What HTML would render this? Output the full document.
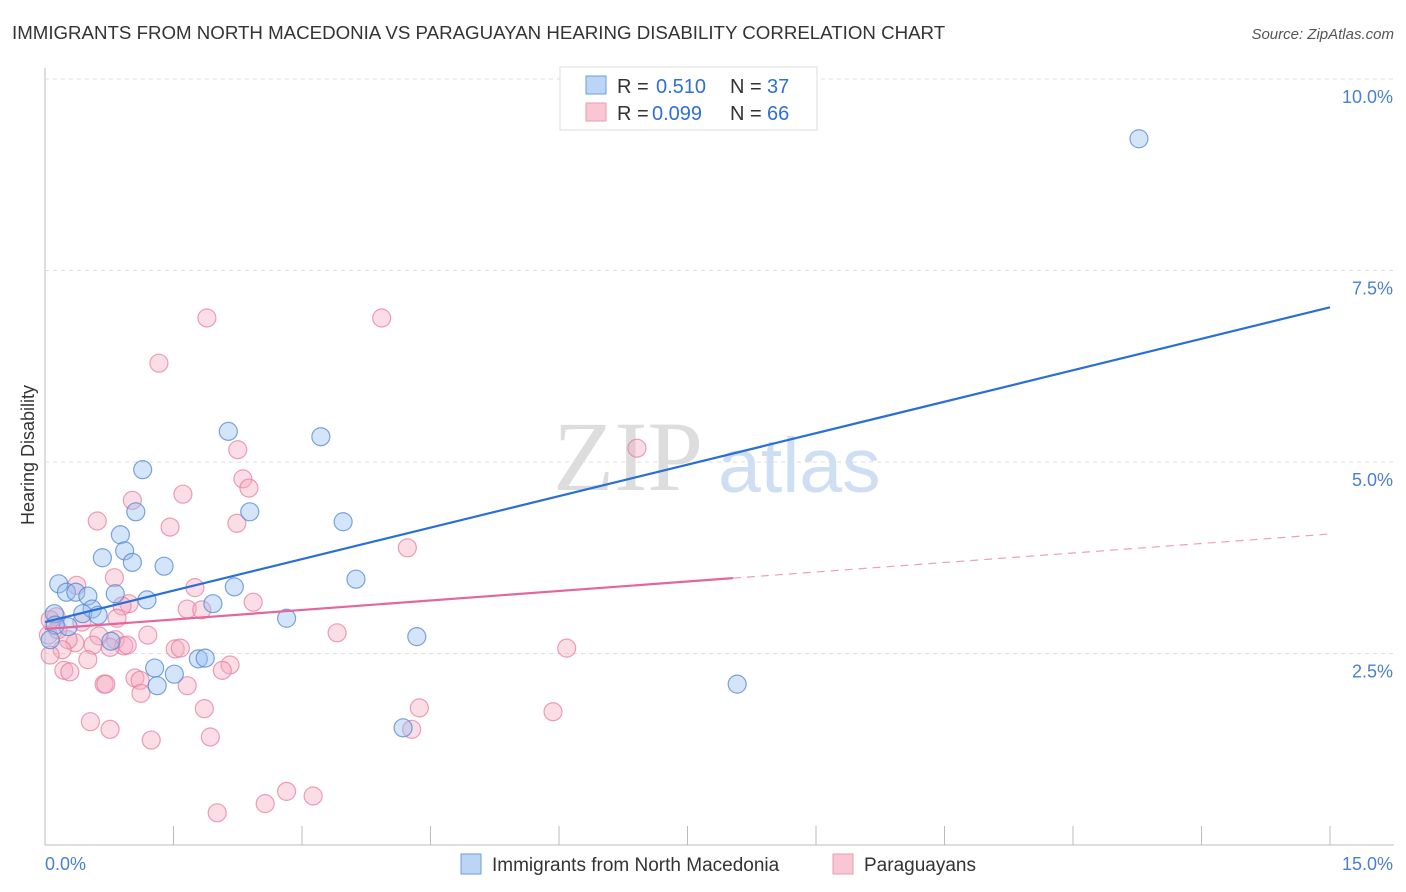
<!DOCTYPE html>
<html><head><meta charset="utf-8"><style>
body{margin:0;background:#fff;font-family:"Liberation Sans",sans-serif;}
</style></head><body>
<svg id="chart" width="1406" height="892" style="display:block">
<text x="12" y="39" font-size="18.7" fill="#333">IMMIGRANTS FROM NORTH MACEDONIA VS PARAGUAYAN HEARING DISABILITY CORRELATION CHART</text>
<text x="1394" y="39" font-size="15" fill="#555" font-style="italic" text-anchor="end">Source: ZipAtlas.com</text>
<text transform="translate(34,455) rotate(-90)" font-size="18" fill="#333" text-anchor="middle">Hearing Disability</text>
<g id="grid"></g>
<text x="553" y="490" font-size="100" fill="#ddd" font-family="Liberation Serif,serif">ZIP</text>
<text x="718" y="492" font-size="77" fill="#cfdff3">atlas</text>
<g id="pts"></g>
<g id="lines"></g>
<g>
<rect x="560" y="67" width="257" height="63" fill="#fff" stroke="#ddd"/>
<rect x="586" y="76" width="20" height="18" fill="#bcd5f5" stroke="#6a9be0"/>
<rect x="586" y="103" width="20" height="18" fill="#f9c6d4" stroke="#ec9ab2"/>
<text x="617" y="93" font-size="20" fill="#333">R =</text>
<text x="656" y="93" font-size="20" fill="#2f6fd6">0.510</text>
<text x="730" y="93" font-size="20" fill="#333">N =</text>
<text x="767" y="93" font-size="20" fill="#2f6fd6">37</text>
<text x="617" y="120" font-size="20" fill="#333">R =</text>
<text x="652" y="120" font-size="20" fill="#2f6fd6">0.099</text>
<text x="730" y="120" font-size="20" fill="#333">N =</text>
<text x="767" y="120" font-size="20" fill="#2f6fd6">66</text>
</g>
<g>
<rect x="461" y="854" width="20" height="20" fill="#bcd5f5" stroke="#6a9be0"/>
<text x="492" y="871" font-size="19" fill="#333">Immigrants from North Macedonia</text>
<rect x="833" y="854" width="20" height="20" fill="#f9c6d4" stroke="#ec9ab2"/>
<text x="864" y="871" font-size="19" fill="#333">Paraguayans</text>
</g>
</svg>
<script>
const xTicks=[0,1.5,3,4.5,6,7.5,9,10.5,12,13.5,15];
const yTicks=[2.5,5,7.5,10];
const yTickLabels=["2.5%","5.0%","7.5%","10.0%"];
const blueX=[12.77,2.14,3.22,1.14,1.06,2.39,3.48,0.88,0.93,0.67,1.02,1.39,3.63,0.16,2.21,0.25,0.36,0.50,0.82,1.19,1.96,0.55,0.44,0.62,2.82,0.11,0.27,0.12,0.06,0.77,4.34,1.28,1.51,1.79,1.87,1.31,8.08,4.18];
const blueY=[9.22,5.40,5.33,4.90,4.35,4.35,4.22,4.05,3.84,3.75,3.69,3.64,3.47,3.41,3.37,3.30,3.30,3.25,3.28,3.20,3.15,3.08,3.02,3.00,2.96,3.02,2.85,2.87,2.68,2.66,2.72,2.31,2.23,2.43,2.44,2.08,2.10,1.53];
const pinkX=[1.89,3.93,1.33,2.25,6.91,2.31,2.38,1.02,1.61,0.61,1.46,2.24,4.23,0.81,0.37,1.75,0.98,2.43,0.90,1.66,1.83,0.84,0.43,0.13,3.41,1.20,0.63,0.82,0.35,0.27,0.92,0.96,0.56,0.76,1.52,1.58,6.09,0.20,0.50,2.16,2.07,0.22,0.29,0.69,0.71,1.05,1.11,1.66,1.12,4.37,5.93,1.86,0.53,0.76,4.28,1.24,1.93,2.82,3.13,2.57,2.01,0.06,0.04,0.15,0.06];
const pinkY=[6.88,6.88,6.29,5.16,5.18,4.78,4.66,4.50,4.58,4.23,4.15,4.20,3.88,3.49,3.39,3.36,3.15,3.17,3.12,3.08,3.07,2.96,2.91,2.98,2.77,2.74,2.73,2.68,2.64,2.68,2.60,2.61,2.61,2.58,2.56,2.57,2.57,2.55,2.42,2.35,2.28,2.28,2.26,2.10,2.10,2.18,2.15,2.08,1.98,1.79,1.74,1.78,1.61,1.51,1.51,1.37,1.41,0.70,0.64,0.54,0.42,2.48,2.74,2.81,2.94];
const blueTrend=[2.91,7.02];
const pinkTrend=[2.82,4.06];
const pinkSolidEnd=8.03;

const NS="http://www.w3.org/2000/svg";
const sx=v=>45+v*(1285/15);
const sy=v=>845-v*76.6;
function mk(tag,attrs,parent){const e=document.createElementNS(NS,tag);for(const k in attrs)e.setAttribute(k,attrs[k]);parent.appendChild(e);return e;}
const grid=document.getElementById('grid');
let ax=mk('line',{x1:45,y1:68,x2:45,y2:845,stroke:'#bbb'},grid);


let bx=mk('line',{x1:45,y1:845,x2:1394,y2:845,stroke:'#bbb'},grid);


yTicks.forEach((t,i)=>{
  let g=mk('line',{x1:45,y1:sy(t),x2:1394,y2:sy(t),stroke:'#ddd','stroke-dasharray':'4,4'},grid);
  
  
  let l=mk('text',{x:1393,y:sy(t)+24,'font-size':18,fill:'#4a7fd4','text-anchor':'end'},grid);
  l.textContent=yTickLabels[i];
  
  
});
xTicks.forEach((t,i)=>{
  if(i===0)return;
  let k=mk('line',{x1:sx(t),y1:826,x2:sx(t),y2:845,stroke:'#bbb'},grid);
  
  
});
let x0=mk('text',{x:45,y:870,'font-size':18,fill:'#4a7fd4'},grid);x0.textContent='0.0%';


let x1=mk('text',{x:1393,y:870,'font-size':18,fill:'#4a7fd4','text-anchor':'end'},grid);x1.textContent='15.0%';


const pts=document.getElementById('pts');
pinkX.forEach((x,i)=>{
  let c=mk('circle',{cx:sx(x),cy:sy(pinkY[i]),r:9,fill:'rgba(246,170,192,0.4)',stroke:'rgba(230,120,155,0.7)','stroke-width':1.2},pts);
  
  
});
blueX.forEach((x,i)=>{
  let c=mk('circle',{cx:sx(x),cy:sy(blueY[i]),r:9,fill:'rgba(150,190,240,0.4)',stroke:'rgba(80,135,210,0.75)','stroke-width':1.2},pts);
  
  
});
const lines=document.getElementById('lines');
let bl=mk('line',{x1:sx(0),y1:sy(blueTrend[0]),x2:sx(15),y2:sy(blueTrend[1]),stroke:'#2a6fd6','stroke-width':2.2},lines);


const pAt=x=>pinkTrend[0]+(pinkTrend[1]-pinkTrend[0])*x/15;
let pl=mk('line',{x1:sx(0),y1:sy(pinkTrend[0]),x2:sx(pinkSolidEnd),y2:sy(pAt(pinkSolidEnd)),stroke:'#e4669a','stroke-width':2.2},lines);


let pd=mk('line',{x1:sx(pinkSolidEnd),y1:sy(pAt(pinkSolidEnd)),x2:sx(15),y2:sy(pinkTrend[1]),stroke:'#eaa0bb','stroke-width':1.2,'stroke-dasharray':'8,6'},lines);


</script>
</body></html>
